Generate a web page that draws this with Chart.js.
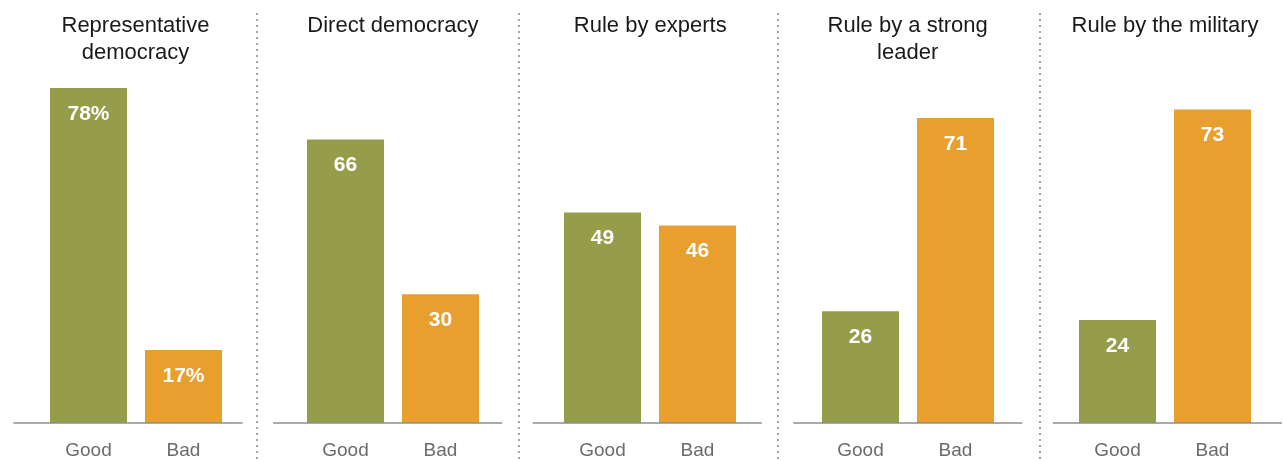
<!DOCTYPE html>
<html>
<head>
<meta charset="utf-8">
<script src="https://cdn.jsdelivr.net/npm/chart.js@4"></script>
<style>
  body { margin: 0; background: #fff; width: 1283px; height: 461px; position: relative; overflow: hidden;
         font-family: "Liberation Sans", Arial, sans-serif; }
  .panel { position: absolute; top: 0; width: 256px; height: 461px; }
  .panel canvas { position: absolute; left: 0; top: 0; }
  .title { position: absolute; top: 11px; left: 28px; width: 200px; text-align: center;
           font-size: 22px; line-height: 27px; color: #1a1a1a; }
  .sep { position: absolute; top: 13px; width: 2px; height: 448px;
         background: repeating-linear-gradient(to bottom, #a3a3a3 0 2px, transparent 2px 6px); }
</style>
</head>
<body>
<script>
// Good / Bad ratings for each system of government
const categories = ['Good', 'Bad'];
const panelTitles = ['Representative democracy', 'Direct democracy', 'Rule by experts', 'Rule by a strong leader', 'Rule by the military'];
const goodValues = [78, 66, 49, 26, 24];
const badValues = [17, 30, 46, 71, 73];

const GREEN = '#959D4A';
const ORANGE = '#E99F2E';
const FONT = '"Liberation Sans", Arial, sans-serif';

// baseline under the bars (its own grid, slightly wider than the bar pair)
const baseline = {
  id: 'baseline',
  afterDatasetsDraw(chart, args, opts) {
    const { ctx } = chart;
    const y = chart.scales.y.getPixelForValue(0);
    ctx.save();
    ctx.strokeStyle = '#8c8c8c';
    ctx.lineWidth = 1.5;
    ctx.beginPath();
    ctx.moveTo(opts.from, y);
    ctx.lineTo(opts.from + 229, y);
    ctx.stroke();
    ctx.restore();
  }
};

// white value labels inside the top of each bar
const valueLabels = {
  id: 'valueLabels',
  afterDatasetsDraw(chart, args, opts) {
    const { ctx } = chart;
    const meta = chart.getDatasetMeta(0);
    const values = chart.data.datasets[0].data;
    ctx.save();
    ctx.fillStyle = '#fff';
    ctx.font = 'bold 21px ' + FONT;
    ctx.textAlign = 'center';
    ctx.textBaseline = 'middle';
    meta.data.forEach((bar, j) => {
      ctx.fillText(values[j] + (opts.percent ? '%' : ''), bar.x, bar.y + 26);
    });
    ctx.restore();
  }
};

panelTitles.forEach((title, i) => {
  const center = 135.5 + i * 257.4;
  const left = center - 128;
  const panel = document.createElement('div');
  panel.className = 'panel';
  panel.style.left = left + 'px';
  const canvas = document.createElement('canvas');
  canvas.width = 256;
  canvas.height = 461;
  panel.appendChild(canvas);
  const t = document.createElement('div');
  t.className = 'title';
  t.textContent = title;
  panel.appendChild(t);
  document.body.appendChild(panel);

  new Chart(canvas, {
    type: 'bar',
    data: {
      labels: categories,
      datasets: [{
        data: [goodValues[i], badValues[i]],
        backgroundColor: [GREEN, ORANGE],
        barPercentage: 77 / 95,
        categoryPercentage: 1
      }]
    },
    options: {
      responsive: false,
      animation: false,
      layout: { padding: { top: 79.4, left: 33, right: 33, bottom: 0 } },
      plugins: {
        legend: { display: false },
        tooltip: { enabled: false },
        valueLabels: { percent: i === 0 },
        baseline: { from: 13 + i * 260 - left }
      },
      scales: {
        x: {
          offset: true,
          grid: { display: false, drawTicks: false },
          border: { display: false },
          ticks: { color: '#6b6b6b', font: { family: FONT, size: 19 }, padding: 16 },
          afterFit(scale) { scale.height = 38; }
        },
        y: { display: false, min: 0, max: 80 }
      }
    },
    plugins: [baseline, valueLabels]
  });
});

// dotted dividers between the panels
[256, 518, 777, 1039].forEach(x => {
  const s = document.createElement('div');
  s.className = 'sep';
  s.style.left = x + 'px';
  document.body.appendChild(s);
});
</script>
</body>
</html>
